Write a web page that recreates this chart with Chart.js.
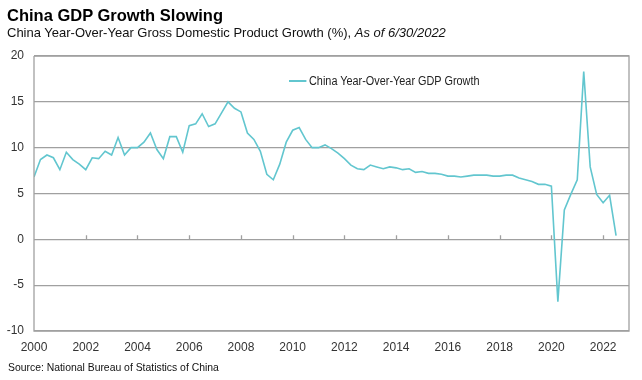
<!DOCTYPE html>
<html>
<head>
<meta charset="utf-8">
<script src="https://cdn.jsdelivr.net/npm/chart.js@4.4.1/dist/chart.umd.min.js"></script>
<style>
  html, body { margin: 0; padding: 0; background: #fff; }
  #wrap { position: relative; width: 642px; height: 380px; overflow: hidden; }
  #c { position: absolute; left: 0; top: 0; }
  .t { position: absolute; white-space: nowrap; font-family: 'Liberation Sans', Arial, sans-serif; color: #000; }
  #title { left: 7px; top: 6px; font-size: 16.5px; font-weight: bold; }
  #subtitle { left: 7px; top: 25px; font-size: 13px; color: #111; }
  #source { left: 8px; top: 362px; font-size: 10.4px; color: #111; }
  #legend { left: 289px; top: 74px; font-size: 12.5px; color: #222; transform: scaleX(0.87); transform-origin: 0 50%; }
  #legend .sw { display: inline-block; width: 20px; height: 1.6px; background: #62C6CF; vertical-align: middle; margin-right: 3px; position: relative; top: -1px; }
</style>
</head>
<body>
<div id="wrap">
  <canvas id="c" width="642" height="380"></canvas>
  <div class="t" id="title">China GDP Growth Slowing</div>
  <div class="t" id="subtitle">China Year-Over-Year Gross Domestic Product Growth (%), <i>As of 6/30/2022</i></div>
  <div class="t" id="legend"><span class="sw"></span>China Year-Over-Year GDP Growth</div>
  <div class="t" id="source">Source: National Bureau of Statistics of China</div>
</div>
<script>
// Series: China year-over-year real GDP growth (%), quarterly, 1999Q4 .. 2022Q2
const seriesName = "China Year-Over-Year GDP Growth";
const firstQuarter = { year: 1999, quarter: 4 };
const gdpGrowth = [
  6.8,                 // 1999Q4
  8.7, 9.2, 8.9, 7.6,  // 2000
  9.5, 8.7, 8.2, 7.6,  // 2001
  8.9, 8.8, 9.6, 9.2,  // 2002
  11.1, 9.2, 10.0, 10.0, // 2003
  10.6, 11.6, 9.8, 8.8,  // 2004
  11.2, 11.2, 9.5, 12.4, // 2005
  12.6, 13.7, 12.3, 12.6, // 2006
  13.8, 15.0, 14.3, 13.9, // 2007
  11.6, 10.9, 9.6, 7.1,   // 2008
  6.5, 8.2, 10.6, 11.9,   // 2009
  12.2, 10.9, 10.0, 10.0, // 2010
  10.3, 9.9, 9.4, 8.8,    // 2011
  8.1, 7.7, 7.6, 8.1,     // 2012
  7.9, 7.7, 7.9, 7.8,     // 2013
  7.6, 7.7, 7.3, 7.4,     // 2014
  7.2, 7.2, 7.1, 6.9,     // 2015
  6.9, 6.8, 6.9, 7.0,     // 2016
  7.0, 7.0, 6.9, 6.9,     // 2017
  7.0, 7.0, 6.7, 6.5,     // 2018
  6.3, 6.0, 6.0, 5.8,     // 2019
  -6.8, 3.2, 4.9, 6.5,    // 2020
  18.3, 7.9, 4.9, 4.0,    // 2021
  4.8, 0.4                // 2022
];
const xTickYears = [2000, 2002, 2004, 2006, 2008, 2010, 2012, 2014, 2016, 2018, 2020, 2022];
const yTickValues = [-10, -5, 0, 5, 10, 15, 20];

// quarter labels -> position at quarter end (year + q/4)
const quarterLabels = [];
{
  let y = firstQuarter.year, q = firstQuarter.quarter;
  for (let i = 0; i < gdpGrowth.length; i++) {
    quarterLabels.push({ year: y, q: q });
    q++; if (q > 4) { q = 1; y++; }
  }
}
const points = gdpGrowth.map((v, i) => ({ x: quarterLabels[i].year + quarterLabels[i].q / 4, y: v }));

const GRID = '#a0a0a0';
const tickFont = { family: "'Liberation Sans', Arial, sans-serif", size: 12 };

const framePlugin = {
  id: 'frame',
  afterDatasetsDraw(chart) {
    const { ctx, chartArea: a, scales } = chart;
    ctx.save();
    ctx.strokeStyle = GRID;
    ctx.lineWidth = 1.3;
    ctx.beginPath();
    ctx.moveTo(a.left, a.top); ctx.lineTo(a.right, a.top);
    ctx.lineTo(a.right, a.bottom); ctx.lineTo(a.left, a.bottom); ctx.lineTo(a.left, a.top);
    ctx.stroke();
    // small tick marks on the zero line
    const y0 = scales.y.getPixelForValue(0);
    ctx.beginPath();
    xTickYears.forEach(yr => {
      if (yr === scales.x.min) return;
      const px = Math.round(scales.x.getPixelForValue(yr)) + 0.5;
      ctx.moveTo(px, y0); ctx.lineTo(px, y0 - 4);
    });
    ctx.stroke();
    ctx.restore();
  }
};

new Chart(document.getElementById('c'), {
  type: 'line',
  data: {
    datasets: [{
      label: seriesName,
      data: points,
      borderColor: '#62C6CF',
      backgroundColor: '#62C6CF',
      borderWidth: 1.6,
      pointRadius: 0,
      tension: 0,
      fill: false
    }]
  },
  options: {
    responsive: false,
    animation: false,
    events: [],
    layout: { padding: { left: 0, right: 13, top: 56, bottom: 26 } },
    plugins: { legend: { display: false }, tooltip: { enabled: false }, title: { display: false } },
    scales: {
      x: {
        type: 'linear',
        min: 2000,
        max: 2023,
        afterBuildTicks: (s) => { s.ticks = xTickYears.map(v => ({ value: v })); },
        afterFit: (s) => { s.height = 23; },
        grid: { display: false, drawTicks: false },
        border: { display: false },
        ticks: { padding: 9, color: '#333', font: tickFont, maxRotation: 0, autoSkip: false, callback: (v) => String(v) }
      },
      y: {
        type: 'linear',
        min: -10,
        max: 20,
        afterBuildTicks: (s) => { s.ticks = yTickValues.map(v => ({ value: v })); },
        afterFit: (s) => { s.width = 34; },
        grid: { color: GRID, lineWidth: 1.3, drawTicks: false },
        border: { display: false },
        ticks: { padding: 10, color: '#333', font: tickFont, callback: (v) => String(v) }
      }
    }
  },
  plugins: [framePlugin]
});
</script>
</body>
</html>
